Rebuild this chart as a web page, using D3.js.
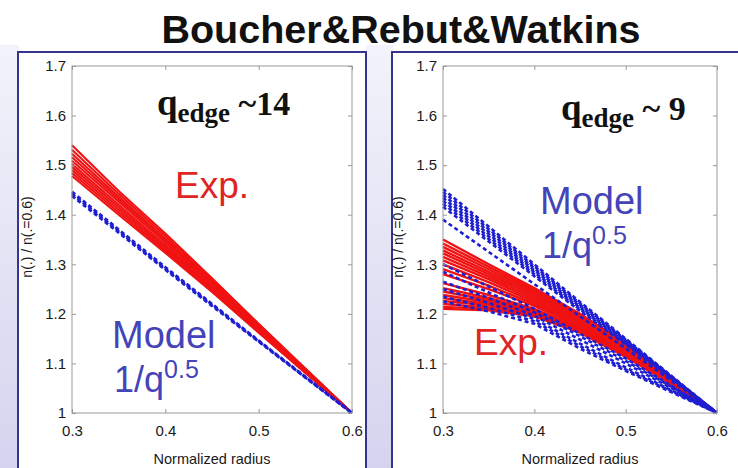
<!DOCTYPE html>
<html>
<head>
<meta charset="utf-8">
<script src="https://cdn.jsdelivr.net/npm/d3@7"></script>
<style>
  body { margin: 0; background: #fff; }
  svg { display: block; }
</style>
</head>
<body>
<script>
// radius grid shared by every curve
var radius = [0.3, 0.35, 0.4, 0.45, 0.5, 0.55, 0.6];
var xTicks = [0.3, 0.4, 0.5, 0.6];
var yTicks = [1, 1.1, 1.2, 1.3, 1.4, 1.5, 1.6, 1.7];

// left panel, q_edge ~14
var leftExp = [
  [1.540, 1.448, 1.362, 1.272, 1.180, 1.090, 1.0],
  [1.531, 1.442, 1.357, 1.268, 1.178, 1.089, 1.0],
  [1.523, 1.436, 1.352, 1.265, 1.176, 1.088, 1.0],
  [1.516, 1.431, 1.348, 1.262, 1.174, 1.087, 1.0],
  [1.509, 1.426, 1.344, 1.259, 1.172, 1.086, 1.0],
  [1.502, 1.420, 1.339, 1.256, 1.170, 1.085, 1.0],
  [1.496, 1.415, 1.335, 1.253, 1.168, 1.084, 1.0],
  [1.490, 1.410, 1.331, 1.250, 1.166, 1.083, 1.0],
  [1.484, 1.405, 1.327, 1.247, 1.164, 1.082, 1.0],
  [1.478, 1.400, 1.323, 1.244, 1.162, 1.081, 1.0]
];
var leftModel = [
  [1.446, 1.370, 1.294, 1.220, 1.146, 1.073, 1.0],
  [1.442, 1.367, 1.291, 1.218, 1.145, 1.072, 1.0],
  [1.438, 1.364, 1.289, 1.216, 1.144, 1.072, 1.0]
];

// right panel, q_edge ~9
var rightExp = [
  [1.350, 1.300, 1.252, 1.200, 1.140, 1.072, 1.0],
  [1.342, 1.295, 1.248, 1.198, 1.138, 1.071, 1.0],
  [1.335, 1.290, 1.244, 1.195, 1.136, 1.070, 1.0],
  [1.328, 1.285, 1.240, 1.192, 1.134, 1.069, 1.0],
  [1.322, 1.280, 1.236, 1.189, 1.132, 1.068, 1.0],
  [1.315, 1.275, 1.232, 1.186, 1.130, 1.067, 1.0],
  [1.308, 1.270, 1.228, 1.183, 1.128, 1.066, 1.0],
  [1.300, 1.264, 1.224, 1.180, 1.126, 1.065, 1.0],
  [1.290, 1.257, 1.220, 1.177, 1.124, 1.064, 1.0],
  [1.280, 1.250, 1.216, 1.174, 1.122, 1.063, 1.0],
  [1.262, 1.238, 1.210, 1.172, 1.121, 1.062, 1.0],
  [1.252, 1.232, 1.207, 1.170, 1.120, 1.062, 1.0],
  [1.245, 1.228, 1.205, 1.168, 1.119, 1.061, 1.0],
  [1.238, 1.224, 1.203, 1.167, 1.118, 1.061, 1.0],
  [1.232, 1.220, 1.201, 1.166, 1.117, 1.060, 1.0],
  [1.226, 1.217, 1.200, 1.165, 1.116, 1.060, 1.0],
  [1.220, 1.213, 1.198, 1.164, 1.115, 1.059, 1.0],
  [1.214, 1.210, 1.196, 1.163, 1.114, 1.059, 1.0],
  [1.210, 1.207, 1.195, 1.162, 1.113, 1.058, 1.0]
];
var rightModel = [
  [1.452, 1.376, 1.300, 1.224, 1.150, 1.075, 1.0],
  [1.446, 1.371, 1.296, 1.221, 1.148, 1.074, 1.0],
  [1.440, 1.366, 1.292, 1.218, 1.146, 1.073, 1.0],
  [1.434, 1.361, 1.288, 1.215, 1.144, 1.072, 1.0],
  [1.428, 1.356, 1.284, 1.212, 1.142, 1.071, 1.0],
  [1.422, 1.351, 1.280, 1.209, 1.140, 1.070, 1.0],
  [1.416, 1.346, 1.276, 1.206, 1.138, 1.069, 1.0],
  [1.390, 1.325, 1.260, 1.195, 1.130, 1.065, 1.0],
  [1.300, 1.255, 1.210, 1.160, 1.110, 1.055, 1.0],
  [1.285, 1.243, 1.203, 1.155, 1.105, 1.053, 1.0],
  [1.265, 1.232, 1.196, 1.148, 1.100, 1.050, 1.0],
  [1.250, 1.222, 1.190, 1.140, 1.092, 1.046, 1.0],
  [1.235, 1.212, 1.185, 1.135, 1.088, 1.044, 1.0],
  [1.225, 1.205, 1.180, 1.130, 1.085, 1.042, 1.0]
];

var W = 738, H = 468;
var svg = d3.select("body").append("svg").attr("width", W).attr("height", H);

// slide background strips
var grad = svg.append("defs").append("linearGradient")
  .attr("id", "bg").attr("x1", 0).attr("y1", 0).attr("x2", 0).attr("y2", 1);
grad.append("stop").attr("offset", "0%").attr("stop-color", "#f3f3fb");
grad.append("stop").attr("offset", "100%").attr("stop-color", "#d4d4ef");
svg.append("rect").attr("x", 0).attr("y", 45).attr("width", 19).attr("height", H - 45).attr("fill", "url(#bg)");
svg.append("rect").attr("x", 366).attr("y", 45).attr("width", 27).attr("height", H - 45).attr("fill", "url(#bg)");

svg.append("text")
  .attr("x", 401).attr("y", 43)
  .attr("text-anchor", "middle")
  .style("font-family", "Liberation Sans, Arial, sans-serif")
  .style("font-weight", "bold").style("font-size", "39.5px").style("fill", "#111")
  .text("Boucher&Rebut&Watkins");

function drawPanel(p) {
  // outer navy box
  svg.append("rect")
    .attr("x", p.box[0]).attr("y", p.box[1]).attr("width", p.box[2]).attr("height", p.box[3])
    .attr("fill", "#fff").attr("stroke", "#35358c").attr("stroke-width", 2);

  var x = d3.scaleLinear().domain([0.3, 0.6]).range([p.left, p.right]);
  var y = d3.scaleLinear().domain([1, 1.7]).range([p.bottom, p.top]);
  var g = svg.append("g");

  var line = d3.line()
    .x(function (d, i) { return x(radius[i]); })
    .y(function (d) { return y(d); });

  g.selectAll(".exp").data(p.exp).enter().append("path")
    .attr("class", "exp")
    .attr("d", line)
    .attr("fill", "none").attr("stroke", "#f01212").attr("stroke-width", p.redW);

  g.selectAll(".model").data(p.model).enter().append("path")
    .attr("class", "model")
    .attr("d", line)
    .attr("fill", "none").attr("stroke", "#1e1ed2").attr("stroke-width", p.blueW)
    .attr("stroke-dasharray", "4,3");

  // matlab style frame with inward ticks
  var fmt = function (d) { return String(+d.toFixed(1)); };
  var ax = [
    [d3.axisLeft(y).tickValues(yTicks).tickFormat(fmt), p.left, 0, true, 6],
    [d3.axisRight(y).tickValues(yTicks), p.right, 0, false, 6],
    [d3.axisBottom(x).tickValues(xTicks).tickFormat(fmt), 0, p.bottom, true, 12],
    [d3.axisTop(x).tickValues(xTicks), 0, p.top, false, 6]
  ];
  ax.forEach(function (a) {
    var sel = g.append("g")
      .attr("transform", "translate(" + a[1] + "," + a[2] + ")")
      .call(a[0].tickSizeInner(-4).tickSizeOuter(0).tickPadding(a[4]));
    sel.select(".domain").remove();
    sel.selectAll("line").attr("stroke", "#999");
    sel.selectAll("text")
      .style("font-family", "Liberation Sans, Arial, sans-serif")
      .style("font-size", "15px").style("fill", "#1a1a1a");
    if (!a[3]) sel.selectAll("text").remove();
  });
  g.append("rect")
    .attr("x", p.left).attr("y", p.top)
    .attr("width", p.right - p.left).attr("height", p.bottom - p.top)
    .attr("fill", "none").attr("stroke", "#999").attr("stroke-width", 1);

  g.append("text")
    .attr("x", (p.left + p.right) / 2).attr("y", p.bottom + 51)
    .attr("text-anchor", "middle")
    .style("font-family", "Liberation Sans, Arial, sans-serif")
    .style("font-size", "14.5px").style("fill", "#1a1a1a")
    .text("Normalized radius");

  g.append("text")
    .attr("transform", "translate(" + (p.left - 40) + ",237) rotate(-90)")
    .attr("text-anchor", "middle")
    .style("font-family", "Liberation Sans, Arial, sans-serif")
    .style("font-size", "14px").style("fill", "#1a1a1a")
    .text("n(.) / n(.=0.6)");

  // q_edge label
  var q = g.append("text")
    .attr("x", p.q[0]).attr("y", p.q[1])
    .style("font-family", "Liberation Serif, Times New Roman, serif")
    .style("font-weight", "bold").style("fill", "#111");
  q.append("tspan").style("font-size", "37px").text("q");
  q.append("tspan").attr("dy", 7).style("font-size", "27px").text("edge");
  q.append("tspan").attr("dy", -7).style("font-size", "34px").text(p.qText);

  g.append("text")
    .attr("x", p.exp_t[0]).attr("y", p.exp_t[1])
    .style("font-family", "Liberation Sans, Arial, sans-serif")
    .style("font-size", "37px").style("fill", "#e02424")
    .text("Exp.");

  var mt = g.append("g")
    .style("font-family", "Liberation Sans, Arial, sans-serif")
    .style("fill", "#4444b8");
  mt.append("text").attr("x", p.mod_t[0]).attr("y", p.mod_t[1])
    .style("font-size", "38px").text("Model");
  var inv = mt.append("text").attr("x", p.mod_t[0] + 2).attr("y", p.mod_t[1] + 44)
    .style("font-size", "36px");
  inv.append("tspan").text("1/q");
  inv.append("tspan").attr("dy", -14).style("font-size", "25px").text("0.5");
}

drawPanel({
  box: [18, 52, 348, 430],
  left: 72, right: 352, top: 66, bottom: 413,
  exp: leftExp, model: leftModel, redW: 2.1, blueW: 2.8,
  q: [157, 115], qText: " ~14",
  exp_t: [175, 198], mod_t: [112, 348]
});

drawPanel({
  box: [392, 52, 360, 430],
  left: 443, right: 717, top: 66, bottom: 413,
  exp: rightExp, model: rightModel, redW: 2.4, blueW: 2.6,
  q: [561, 120], qText: " ~ 9",
  exp_t: [474, 355], mod_t: [540, 214]
});
</script>
</body>
</html>
